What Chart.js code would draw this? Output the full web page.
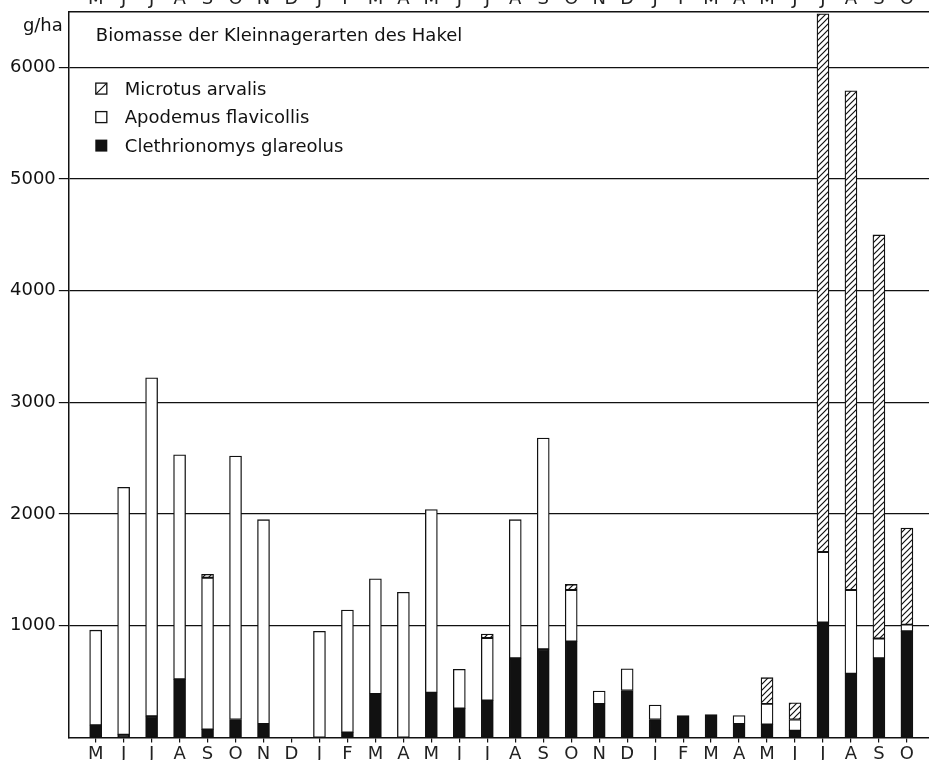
<!DOCTYPE html>
<html>
<head>
<meta charset="utf-8">
<script src="https://cdn.jsdelivr.net/npm/chart.js@4.4.1/dist/chart.umd.min.js"></script>
<style>
  html, body { margin: 0; padding: 0; background: #fff; overflow: hidden; }
  #wrap { position: absolute; left: 0; top: -18px; width: 929px; height: 786px; }
</style>
</head>
<body>
<div id="wrap"><canvas id="c" width="929" height="786"></canvas></div>
<script>
// Monthly biomass (g/ha), May of the first year through October of the third
const months = ['M','J','J','A','S','O','N','D','J','F','M','A','M','J','J','A','S','O','N','D','J','F','M','A','M','J','J','A','S','O'];
const clethrionomys = [110, 25, 190, 520, 70, 160, 120, 0, 0, 45, 390, 0, 400, 260, 330, 710, 790, 860, 300, 420, 160, 195, 205, 120, 115, 60, 1030, 570, 710, 950];
const apodemus      = [850, 2215, 3030, 2010, 1360, 2360, 1830, 0, 950, 1095, 1030, 1300, 1640, 350, 560, 1240, 1890, 460, 115, 195, 130, 0, 0, 75, 185, 100, 630, 750, 175, 60];
const microtus      = [0, 0, 0, 0, 30, 0, 0, 0, 0, 0, 0, 0, 0, 0, 35, 0, 0, 50, 0, 0, 0, 0, 0, 0, 235, 150, 4820, 4470, 3615, 865];
const yTicks = [1000, 2000, 3000, 4000, 5000, 6000];
const seriesNames = ['Clethrionomys glareolus', 'Apodemus flavicollis', 'Microtus arvalis'];
const title = 'Biomasse der Kleinnagerarten des Hakel';
const unit = 'g/ha';

const INK = '#111';
const FONT = '"DejaVu Sans", sans-serif';
const X_MIN = -0.96, X_MAX = 29.79;

const canvas = document.getElementById('c');
const ctx = canvas.getContext('2d');

// diagonal hatching for the Microtus segments
const hatch = (() => {
  const s = 6;
  const tile = document.createElement('canvas');
  tile.width = s; tile.height = s;
  const g = tile.getContext('2d');
  g.fillStyle = '#fff';
  g.fillRect(0, 0, s, s);
  g.strokeStyle = INK;
  g.lineWidth = 1.2;
  g.beginPath();
  g.moveTo(0, s); g.lineTo(s, 0);
  g.moveTo(-1, 1); g.lineTo(1, -1);
  g.moveTo(s - 1, s + 1); g.lineTo(s + 1, s - 1);
  g.stroke();
  return ctx.createPattern(tile, 'repeat');
})();

const toPoints = arr => arr.map((v, i) => ({ x: i, y: v }));
const barStyle = { borderColor: INK, borderWidth: 1.3, borderSkipped: false, barThickness: 12 };

const monthTicks = scale => { scale.ticks = months.map((m, i) => ({ value: i })); };
const monthLabel = v => (months[v] !== undefined ? months[v] : '');

// title, unit and legend drawn inside the plot frame
const annotations = {
  id: 'annotations',
  afterDatasetsDraw(chart) {
    const { ctx: c, chartArea: a } = chart;
    c.save();
    c.fillStyle = INK;
    c.font = '18px ' + FONT;
    c.textBaseline = 'alphabetic';
    c.textAlign = 'left';
    c.fillText(title, a.left + 27, a.top + 29);

    c.textAlign = 'right';
    c.fillText(unit, a.left - 6, a.top + 19);

    c.textAlign = 'left';
    const ds = chart.data.datasets.slice().reverse();
    ds.forEach((d, k) => {
      const base = a.top + 83 + k * 28.5;
      const bx = a.left + 27, by = base - 11.5, bs = 11;
      c.lineWidth = 1.3;
      c.strokeStyle = INK;
      if (d.legendStyle === 'hatch') {
        c.fillStyle = '#fff';
        c.fillRect(bx, by, bs, bs);
        c.strokeRect(bx, by, bs, bs);
        c.beginPath();
        c.moveTo(bx, by + bs); c.lineTo(bx + bs, by);
        c.stroke();
      } else if (d.legendStyle === 'solid') {
        c.fillStyle = INK;
        c.fillRect(bx - 0.5, by - 0.5, bs + 1, bs + 1);
      } else {
        c.fillStyle = '#fff';
        c.fillRect(bx, by, bs, bs);
        c.strokeRect(bx, by, bs, bs);
      }
      c.fillStyle = INK;
      c.fillText(d.label, a.left + 56, base);
    });
    c.restore();
  }
};

new Chart(ctx, {
  type: 'bar',
  data: {
    datasets: [
      { label: seriesNames[0], data: toPoints(clethrionomys), backgroundColor: INK, legendStyle: 'solid', ...barStyle },
      { label: seriesNames[1], data: toPoints(apodemus), backgroundColor: '#fff', legendStyle: 'open', ...barStyle },
      { label: seriesNames[2], data: toPoints(microtus), backgroundColor: hatch, legendStyle: 'hatch', ...barStyle }
    ]
  },
  options: {
    responsive: false,
    animation: false,
    devicePixelRatio: 1,
    layout: { padding: { left: 7, right: 0, top: 6, bottom: 2 } },
    plugins: { legend: { display: false }, tooltip: { enabled: false } },
    scales: {
      x: {
        type: 'linear', position: 'bottom', min: X_MIN, max: X_MAX, bounds: 'data', stacked: true, offset: false,
        afterBuildTicks: monthTicks,
        grid: { offset: false, drawOnChartArea: false, drawTicks: true, tickLength: 5, color: INK, lineWidth: 1.2 },
        border: { display: true, color: INK, width: 1.5 },
        ticks: { autoSkip: false, maxRotation: 0, minRotation: 0, padding: 1, color: '#222', font: { family: FONT, size: 18 }, callback: monthLabel }
      },
      x2: {
        type: 'linear', axis: 'x', position: 'top', min: X_MIN, max: X_MAX, bounds: 'data', offset: false,
        afterBuildTicks: monthTicks,
        grid: { offset: false, drawOnChartArea: false, drawTicks: false },
        border: { display: true, color: INK, width: 1.5 },
        ticks: { autoSkip: false, maxRotation: 0, minRotation: 0, padding: 1, color: '#222', font: { family: FONT, size: 18 }, callback: monthLabel }
      },
      y: {
        min: 0, max: 6500, stacked: true,
        afterBuildTicks: scale => { scale.ticks = yTicks.map(v => ({ value: v })); },
        grid: { color: INK, lineWidth: 1.2, tickLength: 10 },
        border: { display: true, color: INK, width: 1.5 },
        ticks: { padding: 3, color: INK, font: { family: FONT, size: 18 }, callback: v => String(v) }
      }
    }
  },
  plugins: [annotations]
});
</script>
</body>
</html>
